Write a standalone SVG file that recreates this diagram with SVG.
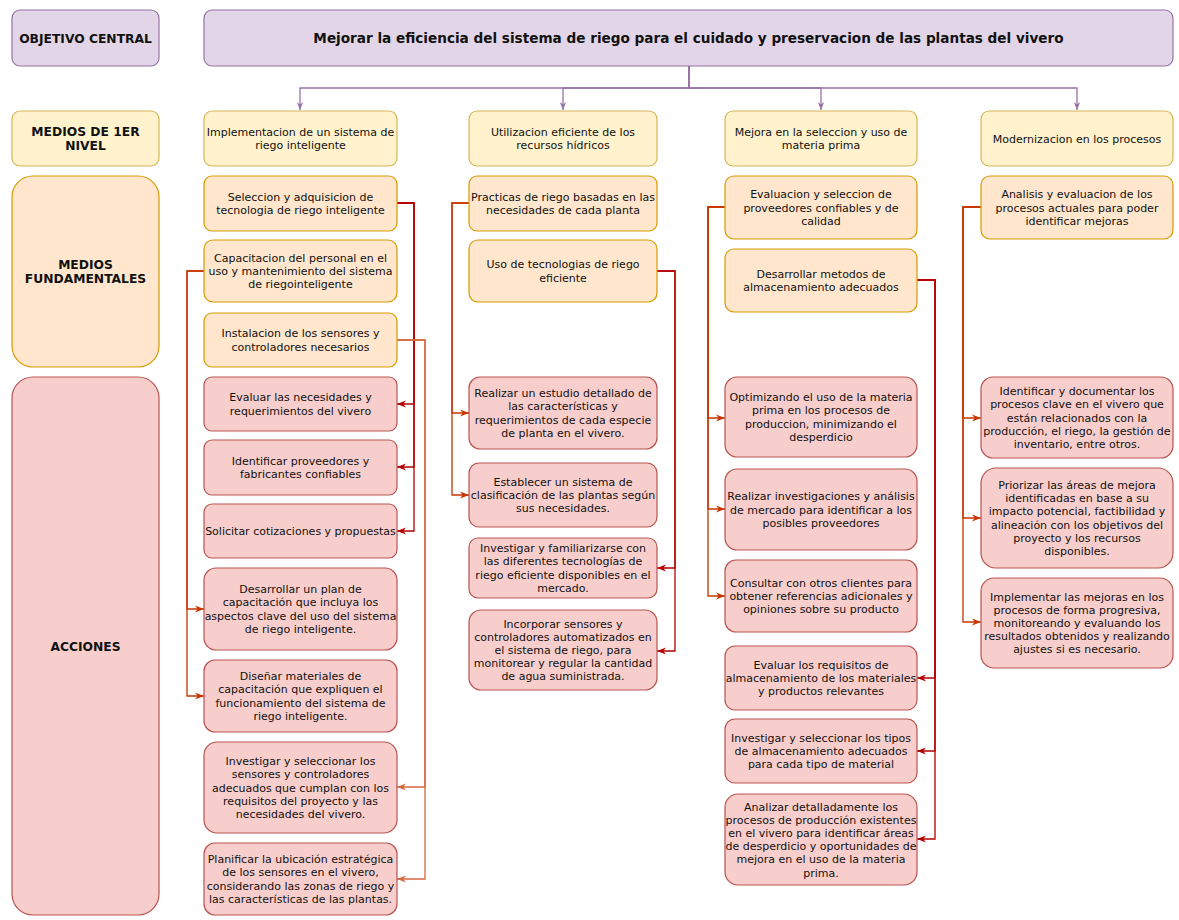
<svg xmlns="http://www.w3.org/2000/svg" width="1179" height="920" viewBox="0 0 1179 920">
<style>
.t{font-family:"DejaVu Sans",Verdana,sans-serif;font-size:11px;fill:#111;text-anchor:middle}
.lb{font-family:"DejaVu Sans",Verdana,sans-serif;font-size:12.3px;font-weight:bold;fill:#111;text-anchor:middle}
.ttl{font-family:"DejaVu Sans",Verdana,sans-serif;font-size:13.6px;font-weight:bold;fill:#111;text-anchor:middle}
.pu{fill:#e1d5e7;stroke:#9673a6;stroke-width:1.2}
.ye{fill:#fff2cc;stroke:#d6b656;stroke-width:1.2}
.or{fill:#ffe6cc;stroke:#d79b00;stroke-width:1.2}
.rd{fill:#f8cecc;stroke:#b85450;stroke-width:1.2}
.c{fill:none;stroke-width:1.3}
.cp{stroke:#9673a6;marker-end:url(#mp)}
.cd{stroke:#b20000;marker-end:url(#md)}
.co{stroke:#c73500;marker-end:url(#mo)}
.cl{stroke:#d5683f;marker-end:url(#ml)}
</style>
<defs>
<marker id="mp" viewBox="0 0 10 10" refX="10" refY="5" markerWidth="8" markerHeight="8" markerUnits="userSpaceOnUse" orient="auto"><path d="M0,1 L10,5 L0,9 L3,5 z" fill="#9673a6"/></marker>
<marker id="md" viewBox="0 0 10 10" refX="10" refY="5" markerWidth="9" markerHeight="9" markerUnits="userSpaceOnUse" orient="auto"><path d="M0,1 L10,5 L0,9 L3,5 z" fill="#b20000"/></marker>
<marker id="mo" viewBox="0 0 10 10" refX="10" refY="5" markerWidth="9" markerHeight="9" markerUnits="userSpaceOnUse" orient="auto"><path d="M0,1 L10,5 L0,9 L3,5 z" fill="#c73500"/></marker>
<marker id="ml" viewBox="0 0 10 10" refX="10" refY="5" markerWidth="9" markerHeight="9" markerUnits="userSpaceOnUse" orient="auto"><path d="M0,1 L10,5 L0,9 L3,5 z" fill="#d5683f"/></marker>
</defs>

<g id="connectors" class="c">
<path class="c cp" d="M689,66 V88 H300 V110"/>
<path class="c cp" d="M689,66 V88 H563 V110"/>
<path class="c cp" d="M689,66 V88 H821 V110"/>
<path class="c cp" d="M689,66 V88 H1077 V110"/>

<path class="c cd" d="M397,203 H414 V404 H397"/>
<path class="c cd" d="M397,203 H414 V467 H397"/>
<path class="c cd" d="M397,203 H414 V531 H397"/>
<path class="c co" d="M204,271 H187 V609 H204"/>
<path class="c co" d="M204,271 H187 V696 H204"/>
<path class="c cl" d="M397,340 H425 V787 H397"/>
<path class="c cl" d="M397,340 H425 V879 H397"/>

<path class="c co" d="M469,203 H452 V413 H469"/>
<path class="c co" d="M469,203 H452 V495 H469"/>
<path class="c cd" d="M657,271 H675 V568 H657"/>
<path class="c cd" d="M657,271 H675 V651 H657"/>

<path class="c co" d="M725,207 H708 V418 H725"/>
<path class="c co" d="M725,207 H708 V509 H725"/>
<path class="c co" d="M725,207 H708 V596 H725"/>
<path class="c cd" d="M917,280 H935 V678 H917"/>
<path class="c cd" d="M917,280 H935 V751 H917"/>
<path class="c cd" d="M917,280 H935 V839 H917"/>

<path class="c co" d="M981,207 H963 V418 H981"/>
<path class="c co" d="M981,207 H963 V518 H981"/>
<path class="c co" d="M981,207 H963 V622 H981"/>
</g>

<g id="lbl-objetivo"><rect class="pu" x="12" y="10" width="147" height="56" rx="8"/><text class="lb" x="85.5" y="42.5">OBJETIVO CENTRAL</text></g>
<g id="lbl-medios1"><rect class="ye" x="12" y="111" width="147" height="55" rx="8"/><text class="lb" x="85.5" y="136">MEDIOS DE 1ER<tspan x="85.5" dy="14">NIVEL</tspan></text></g>
<g id="lbl-fund"><rect class="or" x="12" y="176" width="147" height="191" rx="21"/><text class="lb" x="85.5" y="269">MEDIOS<tspan x="85.5" dy="14">FUNDAMENTALES</tspan></text></g>
<g id="lbl-acciones"><rect class="rd" x="12" y="377" width="147" height="538" rx="21"/><text class="lb" x="85.5" y="650.5">ACCIONES</text></g>

<g id="title"><rect class="pu" x="204" y="10" width="969" height="56" rx="8"/><text class="ttl" x="688.5" y="43">Mejorar la eficiencia del sistema de riego para el cuidado y preservacion de las plantas del vivero</text></g>

<!-- Column 1 -->
<g id="c1-l1"><rect class="ye" x="204" y="111" width="193" height="55" rx="8"/><text class="t" x="300.5" y="135.9">Implementacion de un sistema de<tspan x="300.5" dy="13.2">riego inteligente</tspan></text></g>
<g id="c1-f1"><rect class="or" x="204" y="176" width="193" height="55" rx="8"/><text class="t" x="300.5" y="200.9">Seleccion y adquisicion de<tspan x="300.5" dy="13.2">tecnologia de riego inteligente</tspan></text></g>
<g id="c1-f2"><rect class="or" x="204" y="240" width="193" height="62" rx="9"/><text class="t" x="300.5" y="261.8">Capacitacion del personal en el<tspan x="300.5" dy="13.2">uso y mantenimiento del sistema</tspan><tspan x="300.5" dy="13.2">de riegointeligente</tspan></text></g>
<g id="c1-f3"><rect class="or" x="204" y="313" width="193" height="54" rx="8"/><text class="t" x="300.5" y="337.4">Instalacion de los sensores y<tspan x="300.5" dy="13.2">controladores necesarios</tspan></text></g>
<g id="c1-a1"><rect class="rd" x="204" y="377" width="193" height="54" rx="8"/><text class="t" x="300.5" y="401.4">Evaluar las necesidades y<tspan x="300.5" dy="13.2">requerimientos del vivero</tspan></text></g>
<g id="c1-a2"><rect class="rd" x="204" y="440" width="193" height="55" rx="8"/><text class="t" x="300.5" y="464.9">Identificar proveedores y<tspan x="300.5" dy="13.2">fabricantes confiables</tspan></text></g>
<g id="c1-a3"><rect class="rd" x="204" y="504" width="193" height="54" rx="8"/><text class="t" x="300.5" y="535">Solicitar cotizaciones y propuestas</text></g>
<g id="c1-a4"><rect class="rd" x="204" y="568" width="193" height="82" rx="12"/><text class="t" x="300.5" y="593.2">Desarrollar un plan de<tspan x="300.5" dy="13.2">capacitación que incluya los</tspan><tspan x="300.5" dy="13.2">aspectos clave del uso del sistema</tspan><tspan x="300.5" dy="13.2">de riego inteligente.</tspan></text></g>
<g id="c1-a5"><rect class="rd" x="204" y="660" width="193" height="72" rx="11"/><text class="t" x="300.5" y="680.2">Diseñar materiales de<tspan x="300.5" dy="13.2">capacitación que expliquen el</tspan><tspan x="300.5" dy="13.2">funcionamiento del sistema de</tspan><tspan x="300.5" dy="13.2">riego inteligente.</tspan></text></g>
<g id="c1-a6"><rect class="rd" x="204" y="742" width="193" height="91" rx="13"/><text class="t" x="300.5" y="765.1">Investigar y seleccionar los<tspan x="300.5" dy="13.2">sensores y controladores</tspan><tspan x="300.5" dy="13.2">adecuados que cumplan con los</tspan><tspan x="300.5" dy="13.2">requisitos del proyecto y las</tspan><tspan x="300.5" dy="13.2">necesidades del vivero.</tspan></text></g>
<g id="c1-a7"><rect class="rd" x="204" y="843" width="193" height="72" rx="11"/><text class="t" x="300.5" y="863.2">Planificar la ubicación estratégica<tspan x="300.5" dy="13.2">de los sensores en el vivero,</tspan><tspan x="300.5" dy="13.2">considerando las zonas de riego y</tspan><tspan x="300.5" dy="13.2">las características de las plantas.</tspan></text></g>

<!-- Column 2 -->
<g id="c2-l1"><rect class="ye" x="469" y="111" width="188" height="55" rx="8"/><text class="t" x="563" y="135.9">Utilizacion eficiente de los<tspan x="563" dy="13.2">recursos hídricos</tspan></text></g>
<g id="c2-f1"><rect class="or" x="469" y="176" width="188" height="55" rx="8"/><text class="t" x="563" y="200.9">Practicas de riego basadas en las<tspan x="563" dy="13.2">necesidades de cada planta</tspan></text></g>
<g id="c2-f2"><rect class="or" x="469" y="240" width="188" height="62" rx="9"/><text class="t" x="563" y="268.4">Uso de tecnologias de riego<tspan x="563" dy="13.2">eficiente</tspan></text></g>
<g id="c2-a1"><rect class="rd" x="469" y="377" width="188" height="72" rx="11"/><text class="t" x="563" y="397.2">Realizar un estudio detallado de<tspan x="563" dy="13.2">las características y</tspan><tspan x="563" dy="13.2">requerimientos de cada especie</tspan><tspan x="563" dy="13.2">de planta en el vivero.</tspan></text></g>
<g id="c2-a2"><rect class="rd" x="469" y="463" width="188" height="64" rx="10"/><text class="t" x="563" y="485.8">Establecer un sistema de<tspan x="563" dy="13.2">clasificación de las plantas según</tspan><tspan x="563" dy="13.2">sus necesidades.</tspan></text></g>
<g id="c2-a3"><rect class="rd" x="469" y="538" width="188" height="60" rx="9"/><text class="t" x="563" y="552.2">Investigar y familiarizarse con<tspan x="563" dy="13.2">las diferentes tecnologías de</tspan><tspan x="563" dy="13.2">riego eficiente disponibles en el</tspan><tspan x="563" dy="13.2">mercado.</tspan></text></g>
<g id="c2-a4"><rect class="rd" x="469" y="610" width="188" height="80" rx="12"/><text class="t" x="563" y="627.6">Incorporar sensores y<tspan x="563" dy="13.2">controladores automatizados en</tspan><tspan x="563" dy="13.2">el sistema de riego, para</tspan><tspan x="563" dy="13.2">monitorear y regular la cantidad</tspan><tspan x="563" dy="13.2">de agua suministrada.</tspan></text></g>

<!-- Column 3 -->
<g id="c3-l1"><rect class="ye" x="725" y="111" width="192" height="55" rx="8"/><text class="t" x="821" y="135.9">Mejora en la seleccion y uso de<tspan x="821" dy="13.2">materia prima</tspan></text></g>
<g id="c3-f1"><rect class="or" x="725" y="176" width="192" height="63" rx="9"/><text class="t" x="821" y="198.3">Evaluacion y seleccion de<tspan x="821" dy="13.2">proveedores confiables y de</tspan><tspan x="821" dy="13.2">calidad</tspan></text></g>
<g id="c3-f2"><rect class="or" x="725" y="249" width="192" height="63" rx="9"/><text class="t" x="821" y="277.9">Desarrollar metodos de<tspan x="821" dy="13.2">almacenamiento adecuados</tspan></text></g>
<g id="c3-a1"><rect class="rd" x="725" y="377" width="192" height="80" rx="12"/><text class="t" x="821" y="401.2">Optimizando el uso de la materia<tspan x="821" dy="13.2">prima en los procesos de</tspan><tspan x="821" dy="13.2">produccion, minimizando el</tspan><tspan x="821" dy="13.2">desperdicio</tspan></text></g>
<g id="c3-a2"><rect class="rd" x="725" y="469" width="192" height="81" rx="12"/><text class="t" x="821" y="500.3">Realizar investigaciones y análisis<tspan x="821" dy="13.2">de mercado para identificar a los</tspan><tspan x="821" dy="13.2">posibles proveedores</tspan></text></g>
<g id="c3-a3"><rect class="rd" x="725" y="560" width="192" height="72" rx="11"/><text class="t" x="821" y="586.8">Consultar con otros clientes para<tspan x="821" dy="13.2">obtener referencias adicionales y</tspan><tspan x="821" dy="13.2">opiniones sobre su producto</tspan></text></g>
<g id="c3-a4"><rect class="rd" x="725" y="646" width="192" height="64" rx="10"/><text class="t" x="821" y="668.8">Evaluar los requisitos de<tspan x="821" dy="13.2">almacenamiento de los materiales</tspan><tspan x="821" dy="13.2">y productos relevantes</tspan></text></g>
<g id="c3-a5"><rect class="rd" x="725" y="719" width="192" height="64" rx="10"/><text class="t" x="821" y="741.8">Investigar y seleccionar los tipos<tspan x="821" dy="13.2">de almacenamiento adecuados</tspan><tspan x="821" dy="13.2">para cada tipo de material</tspan></text></g>
<g id="c3-a6"><rect class="rd" x="725" y="794" width="192" height="91" rx="13"/><text class="t" x="821" y="810.5">Analizar detalladamente los<tspan x="821" dy="13.2">procesos de producción existentes</tspan><tspan x="821" dy="13.2">en el vivero para identificar áreas</tspan><tspan x="821" dy="13.2">de desperdicio y oportunidades de</tspan><tspan x="821" dy="13.2">mejora en el uso de la materia</tspan><tspan x="821" dy="13.2">prima.</tspan></text></g>

<!-- Column 4 -->
<g id="c4-l1"><rect class="ye" x="981" y="111" width="192" height="55" rx="8"/><text class="t" x="1077" y="142.5">Modernizacion en los procesos</text></g>
<g id="c4-f1"><rect class="or" x="981" y="176" width="192" height="63" rx="9"/><text class="t" x="1077" y="198.3">Analisis y evaluacion de los<tspan x="1077" dy="13.2">procesos actuales para poder</tspan><tspan x="1077" dy="13.2">identificar mejoras</tspan></text></g>
<g id="c4-a1"><rect class="rd" x="981" y="377" width="192" height="81" rx="12"/><text class="t" x="1077" y="395.1">Identificar y documentar los<tspan x="1077" dy="13.2">procesos clave en el vivero que</tspan><tspan x="1077" dy="13.2">están relacionados con la</tspan><tspan x="1077" dy="13.2">producción, el riego, la gestión de</tspan><tspan x="1077" dy="13.2">inventario, entre otros.</tspan></text></g>
<g id="c4-a2"><rect class="rd" x="981" y="468" width="192" height="100" rx="15"/><text class="t" x="1077" y="489">Priorizar las áreas de mejora<tspan x="1077" dy="13.2">identificadas en base a su</tspan><tspan x="1077" dy="13.2">impacto potencial, factibilidad y</tspan><tspan x="1077" dy="13.2">alineación con los objetivos del</tspan><tspan x="1077" dy="13.2">proyecto y los recursos</tspan><tspan x="1077" dy="13.2">disponibles.</tspan></text></g>
<g id="c4-a3"><rect class="rd" x="981" y="578" width="192" height="90" rx="13"/><text class="t" x="1077" y="600.6">Implementar las mejoras en los<tspan x="1077" dy="13.2">procesos de forma progresiva,</tspan><tspan x="1077" dy="13.2">monitoreando y evaluando los</tspan><tspan x="1077" dy="13.2">resultados obtenidos y realizando</tspan><tspan x="1077" dy="13.2">ajustes si es necesario.</tspan></text></g>
</svg>
